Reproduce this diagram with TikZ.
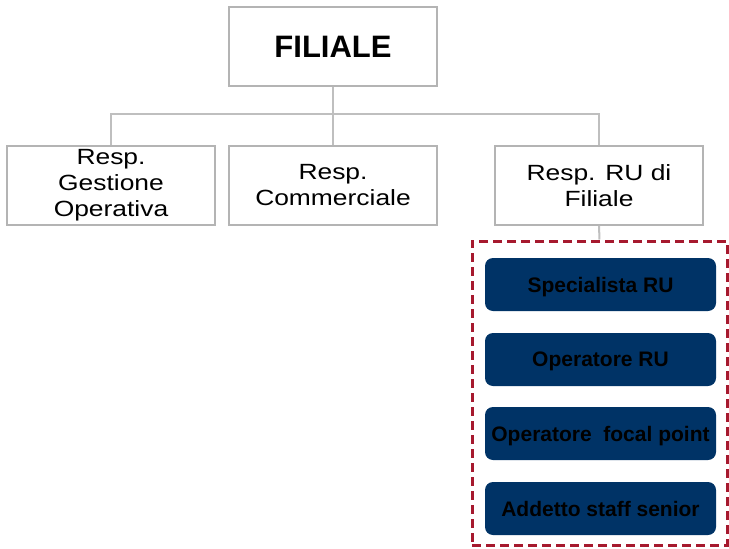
\documentclass[tikz,border=0pt]{standalone}
\usepackage{fontspec}
\setmainfont{Liberation Sans}
\newfontfamily\widefont[FakeStretch=1.2]{Liberation Sans}
\definecolor{linegray}{HTML}{BFBFBF}
\definecolor{boxgray}{HTML}{B4B4B4}
\definecolor{navy}{HTML}{003366}
\definecolor{framered}{HTML}{A6192E}
\tikzset{
  unitbox/.style={draw=boxgray, line width=1.5pt, fill=white, minimum width=208pt, minimum height=79pt, inner sep=0pt, align=center},
  headbox/.style={unitbox, font=\fontsize{22}{26}\widefont},
  rolebox/.style={fill=navy, rounded corners=8pt, minimum width=231pt, minimum height=53pt, inner sep=0pt, text depth=0pt, font=\fontsize{21}{24}\selectfont\bfseries},
  link/.style={draw=linegray, line width=2pt}
}
\begin{document}
\begin{tikzpicture}[x=1pt,y=-1pt]
  \useasboundingbox (0,0) rectangle (729,549);
  % top level
  \node[unitbox, font=\fontsize{31}{34}\selectfont\bfseries] (filiale) at (333,46.5) {FILIALE};
  % second level
  \node[headbox] (gest) at (111,185.5) {Resp.\\Gestione\\Operativa};
  \node[headbox] (comm) at (333,185.5) {Resp.\\Commerciale};
  \node[headbox] (ru) at (599,185.5) {Resp. RU di\\Filiale};
  \coordinate (bar) at (333,114);
  \draw[link] (filiale.south) -- (bar);
  \draw[link] (gest.north) |- (bar) -| (ru.north);
  \draw[link] (comm.north) -- (comm.north |- bar);
  % staff frame
  \node[draw=framered, line width=3pt, dash pattern=on 9pt off 5pt, minimum width=255pt, minimum height=304pt, inner sep=0pt] (staff) at (599.5,393) {};
  \draw[link] (ru.south) -- (staff.north);
  \foreach \name/\y/\txt in {spec/284.5/Specialista RU, oper/359.5/Operatore RU, focal/433.5/Operatore\ \ focal point, senior/508.5/Addetto staff senior}
    \node[rolebox] (\name) at (600.5,\y) {\txt};
\end{tikzpicture}
\end{document}
